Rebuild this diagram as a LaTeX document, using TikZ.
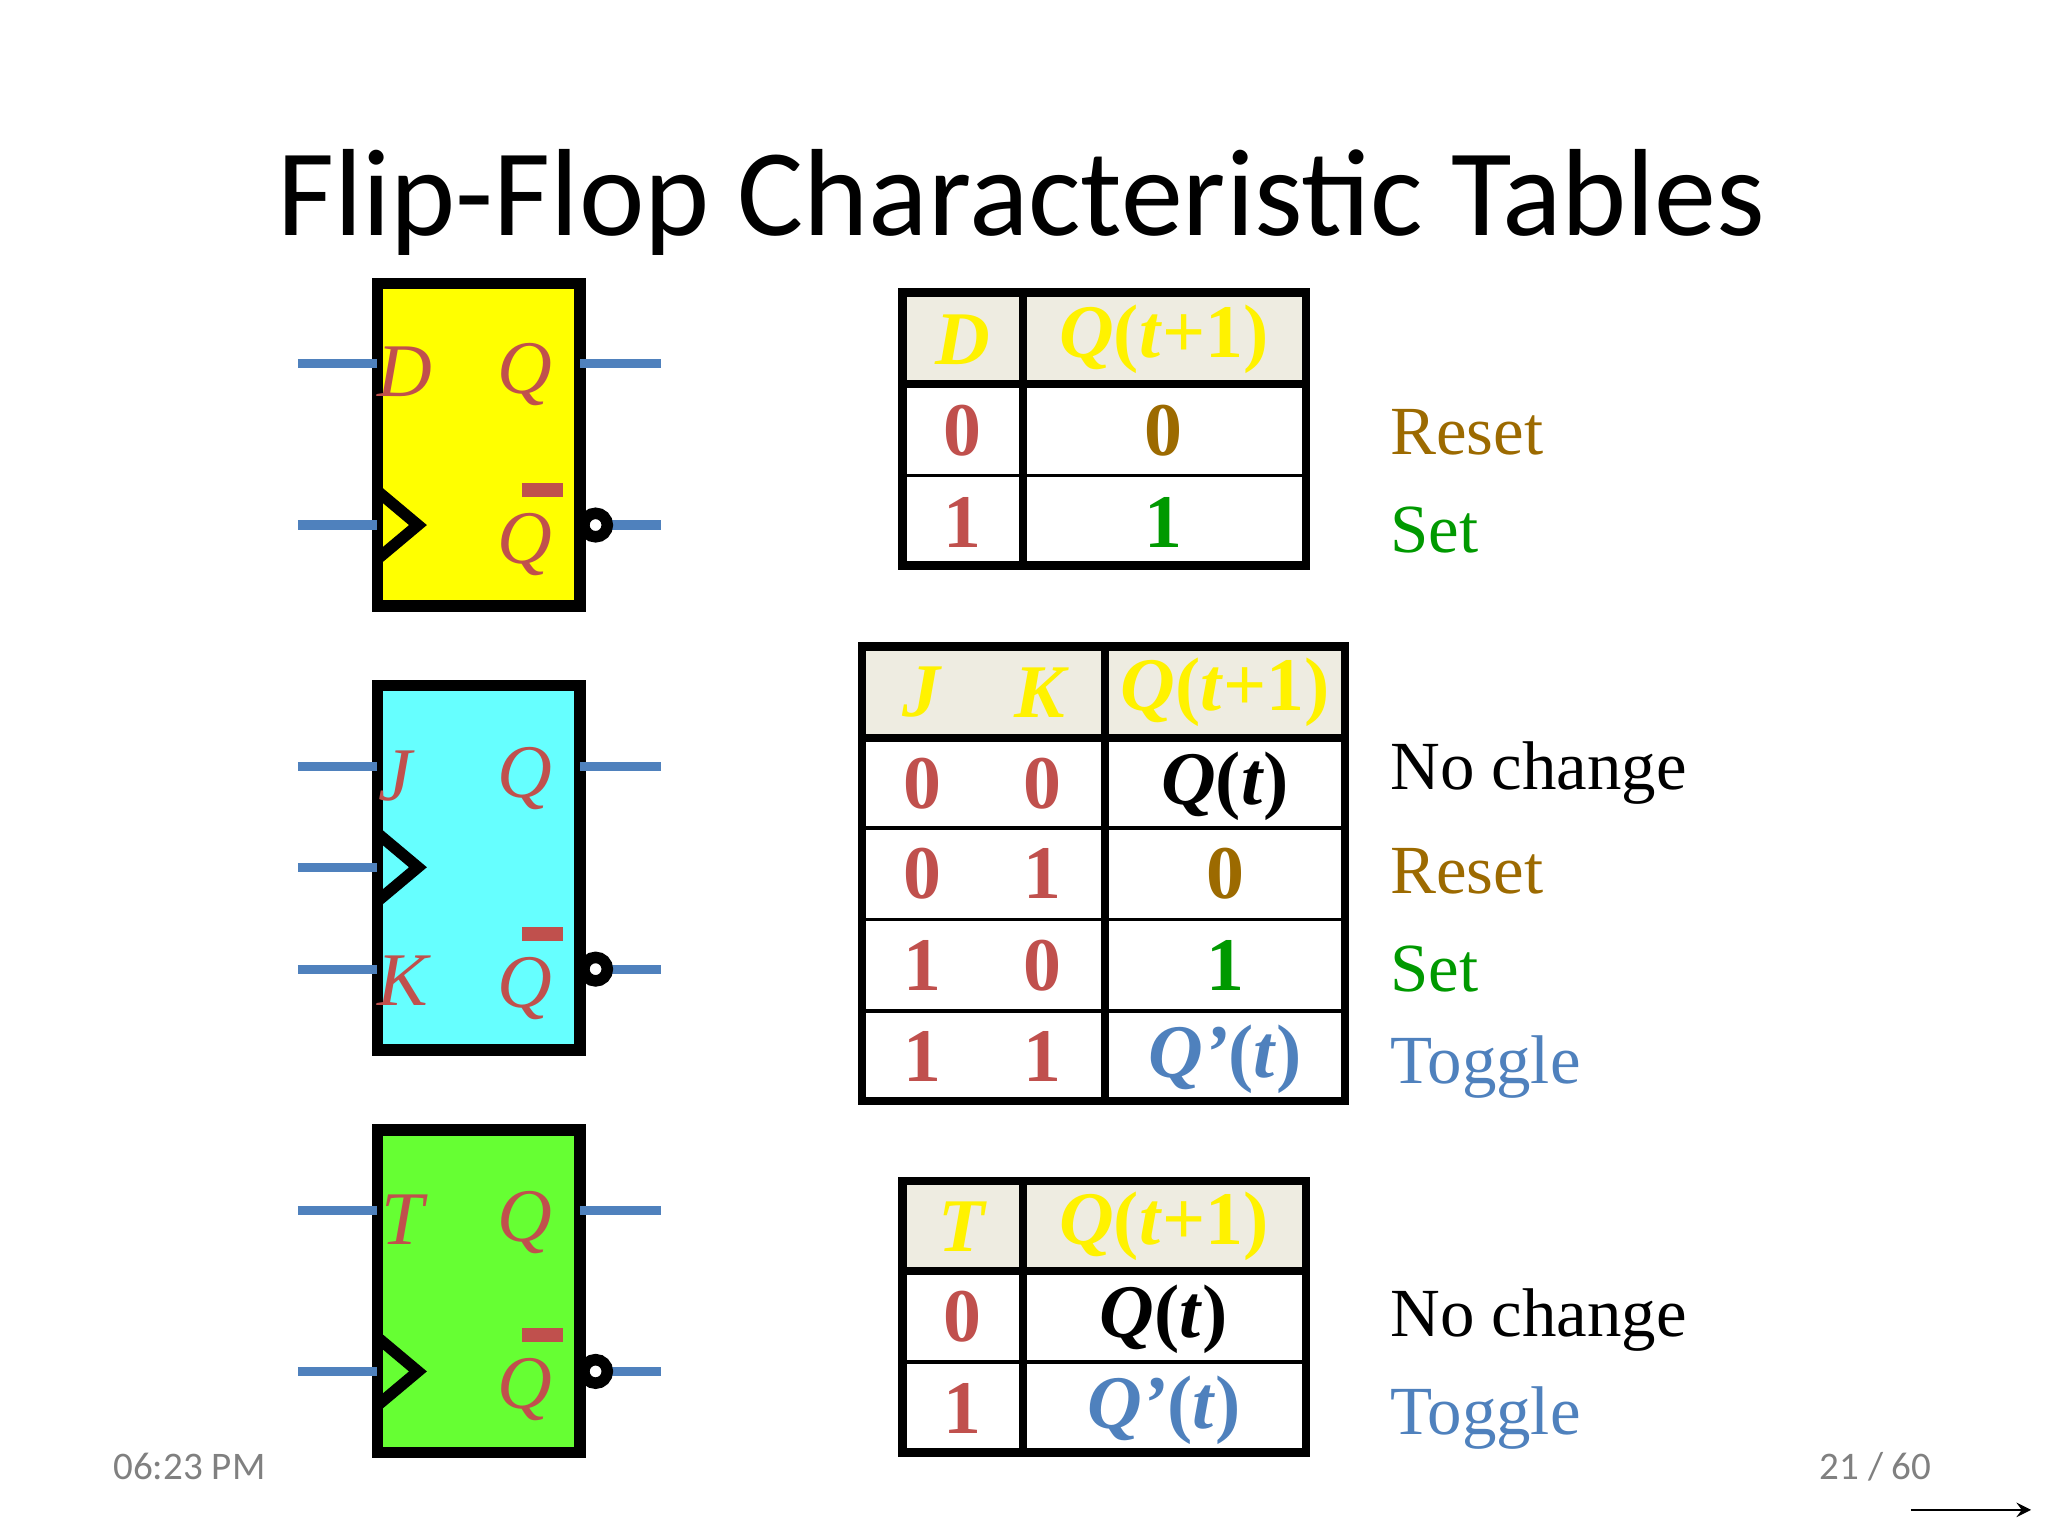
\documentclass[tikz,border=0pt]{standalone}
\usepackage{fontspec}
\setmainfont{Liberation Serif}
\newfontfamily\titlefont{Carlito}
\usepackage{tikz}
\usetikzlibrary{positioning}
\definecolor{pinred}{HTML}{C0504D}
\definecolor{wireblue}{HTML}{4F81BD}
\definecolor{rstgold}{HTML}{9C6A00}
\definecolor{setgreen}{HTML}{009900}
\definecolor{hdrfill}{HTML}{EEECE1}
\definecolor{ffyellow}{HTML}{FFFF00}
\definecolor{ffcyan}{HTML}{66FFFF}
\definecolor{ffgreen}{HTML}{66FF33}
\newcommand{\qnext}{\textit{Q}(\textit{t}+1)}
\newcommand{\qnow}{\textit{Q}(\textit{t})}
\newcommand{\qinv}{\textit{Q’}(\textit{t})}
\tikzset{
  ffbox/.style={line width=2.5pt},
  wire/.style={wireblue,line width=2pt},
  pin/.style={pinred,font=\fontsize{16.5}{18}\selectfont\itshape},
  cell/.style={font=\fontsize{16.5}{18}\selectfont\bfseries},
  hdr/.style={cell,yellow},
  tline/.style={line width=0.8pt},
  frame/.style={line width=1.8pt},
  lbl/.style={anchor=west,font=\fontsize{15}{17}\selectfont}
}
\begin{document}
\begin{tikzpicture}[x=0.01cm,y=-0.01cm]
\useasboundingbox (0,0) rectangle (1568,1176);
% title
\node[font=\titlefont\fontsize{27}{30}\selectfont] (title) at (782,155) {Flip-Flop Characteristic Tables};

% flip-flop symbols
\fill[ffyellow] (289,217) rectangle (444,464);
\fill[ffcyan] (289,525) rectangle (444,804);
\fill[ffgreen] (289,865) rectangle (444,1112);
\foreach \top/\bot in {217/464,525/804,865/1112}
  \draw[ffbox] (289,\top) rectangle (444,\bot);
% input and output wires
\foreach \y in {278,402,587,664,742,927,1050}
  \draw[wire] (228,\y) -- (289,\y);
\foreach \y in {278,587,927}
  \draw[wire] (444,\y) -- (506,\y);
\foreach \y in {402,742,1050}{
  \draw[wire] (466,\y) -- (506,\y);
  \draw[line width=2.5pt,fill=white] (456,\y) circle (9);
}
% clock triangles
\foreach \y in {402,664,1050}
  \draw[line width=2.5pt] (289,\y-26) -- (320,\y) -- (289,\y+26);
% pin labels
\node[pin] (pD) at (310,285) {D};
\node[pin] (pJ) at (303,594) {J};
\node[pin] (pK) at (308,751) {K};
\node[pin] (pT) at (308,934) {T};
\foreach \y in {287,596,936}
  \node[pin] at (402,\y) {Q};
\foreach \y in {417,757,1064}{
  \node[pin] at (402,\y) {Q};
  \draw[pinred,line width=3pt] (400,\y-42) -- (431,\y-42);
}

% D table
\fill[hdrfill] (691,224) rectangle (1000,294);
\draw[tline] (691,364) -- (1000,364);
\draw[frame] (691,224) rectangle (1000,433) (691,294) -- (1000,294) (783,224) -- (783,433);
\node[hdr] at (737,260) {\textit{D}};
\node[hdr] at (891,260) {\qnext};
\node[cell,pinred] at (737,330) {0};
\node[cell,rstgold] at (891,330) {0};
\node[cell,pinred] at (737,400) {1};
\node[cell,setgreen] at (891,400) {1};
\node[lbl,rstgold] (dReset) at (1052,331) {Reset};
\node[lbl,setgreen] (dSet) at (1052,406) {Set};

% JK table
\fill[hdrfill] (660,495) rectangle (1030,565);
\foreach \y in {634,704,774}
  \draw[tline] (660,\y) -- (1030,\y);
\draw[frame] (660,495) rectangle (1030,843) (660,565) -- (1030,565) (846,495) -- (846,843);
\node[hdr] at (706,530) {\textit{J}};
\node[hdr] at (798,530) {\textit{K}};
\node[hdr] at (938,530) {\qnext};
\foreach \j/\k/\y in {0/0/600,0/1/669,1/0/739,1/1/809}{
  \node[cell,pinred] at (706,\y) {\j};
  \node[cell,pinred] at (798,\y) {\k};
}
\node[cell] at (938,602) {\qnow};
\node[cell,rstgold] at (938,669) {0};
\node[cell,setgreen] at (938,739) {1};
\node[cell,wireblue] at (938,811) {\qinv};
\node[lbl] (jkHold) at (1052,592) {No change};
\node[lbl,rstgold] (jkReset) at (1052,667) {Reset};
\node[lbl,setgreen] (jkSet) at (1052,742) {Set};
\node[lbl,wireblue] (jkToggle) at (1052,817) {Toggle};

% T table
\fill[hdrfill] (691,904) rectangle (1000,973);
\draw[tline] (691,1043) -- (1000,1043);
\draw[frame] (691,904) rectangle (1000,1112) (691,973) -- (1000,973) (783,904) -- (783,1112);
\node[hdr] at (737,939) {\textit{T}};
\node[hdr] at (891,939) {\qnext};
\node[cell,pinred] at (737,1008) {0};
\node[cell] at (891,1010) {\qnow};
\node[cell,pinred] at (737,1078) {1};
\node[cell,wireblue] at (891,1080) {\qinv};
\node[lbl] (tHold) at (1052,1011) {No change};
\node[lbl,wireblue] (tToggle) at (1052,1086) {Toggle};

% footer
\node[gray,font=\titlefont\fontsize{8.5}{10}\selectfont] (time) at (145,1123) {06:23 PM};
\node[gray,font=\titlefont\fontsize{8.5}{10}\selectfont] (page) at (1436,1123) {21 / 60};
\coordinate (arrA) at (1463,1156);
\coordinate (arrB) at (1555,1156);
\draw[->,>=stealth] (arrA) -- (arrB);
\end{tikzpicture}
\end{document}
